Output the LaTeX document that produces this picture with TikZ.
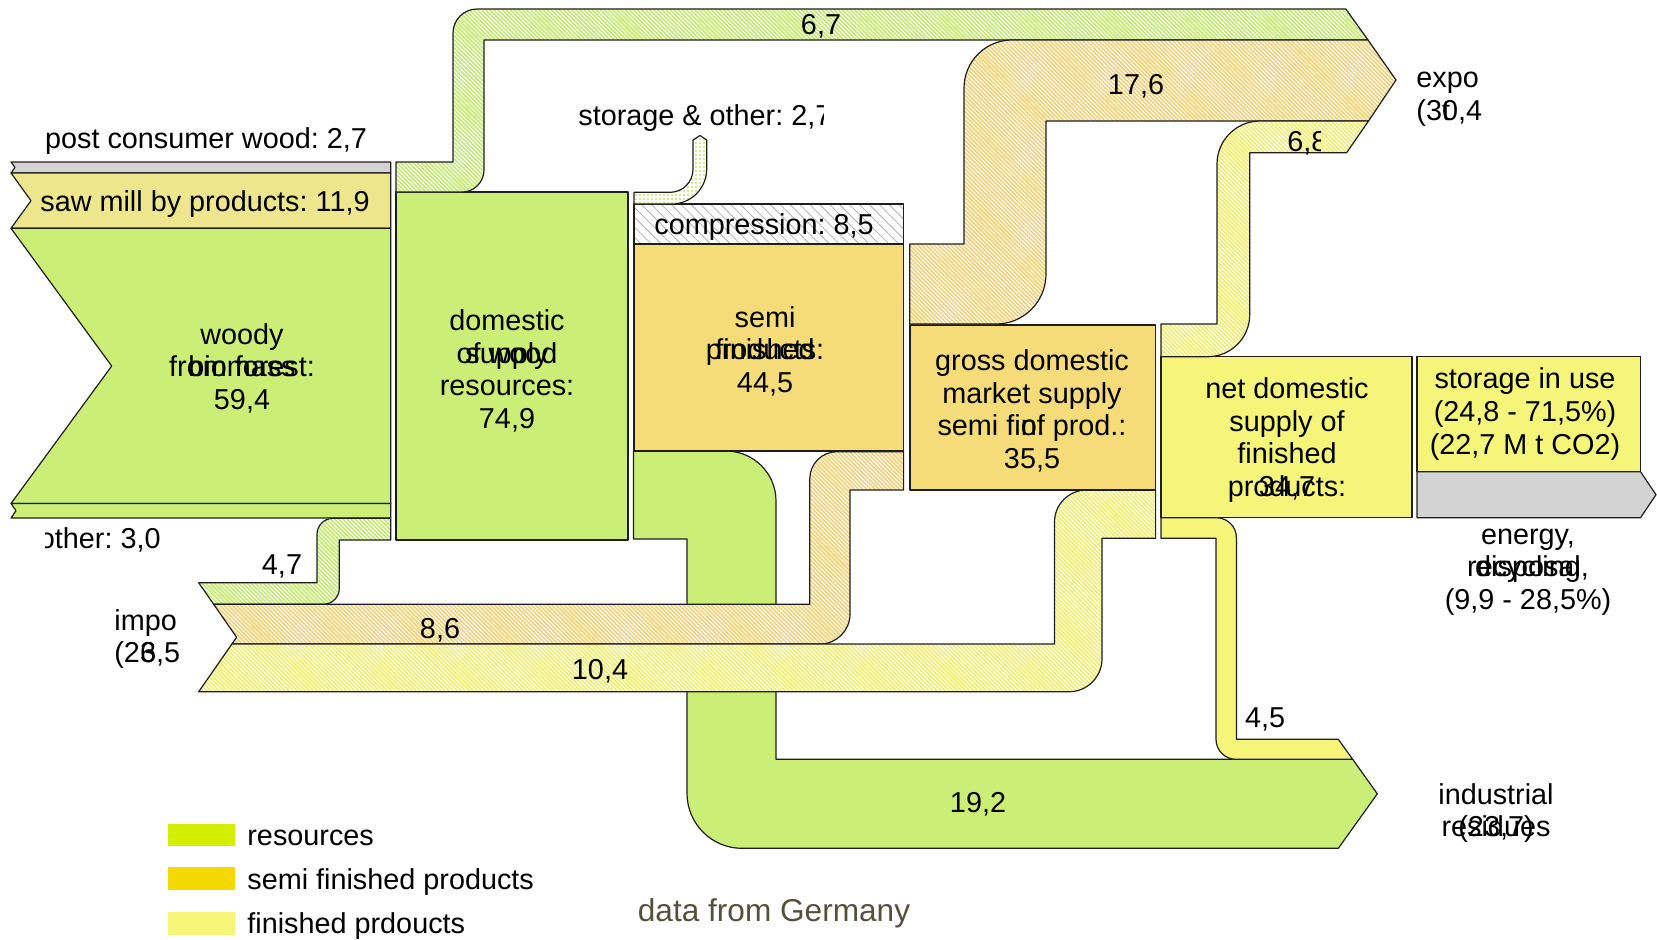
\documentclass[tikz,border=0pt]{standalone}
\usepackage{fontspec}
\setmainfont{Liberation Sans}
\usetikzlibrary{patterns.meta}
\definecolor{cgreen}{RGB}{203,238,118}
\definecolor{csaw}{RGB}{238,230,140}
\definecolor{cgrey}{RGB}{211,211,211}
\definecolor{csemi}{RGB}{245,220,120}
\definecolor{cfin}{RGB}{245,245,122}
\definecolor{hgreen}{RGB}{190,234,100}
\definecolor{horange}{RGB}{245,205,105}
\definecolor{hyellow}{RGB}{240,238,95}
\definecolor{hgrey}{RGB}{175,175,175}
\definecolor{lgres}{RGB}{212,238,0}
\definecolor{lgsemi}{RGB}{245,216,0}
\definecolor{lgfin}{RGB}{245,245,120}
\definecolor{linec}{RGB}{30,30,30}
\definecolor{germ}{RGB}{85,80,60}
\newcommand\fs{\fontsize{14.4}{16.3}\selectfont}
\newcommand\cor[7]{-- ({#1-(#3)*#7},{#2-(#4)*#7}) .. controls ({#1-0.4477*(#3)*#7},{#2-0.4477*(#4)*#7}) and ({#1+0.4477*(#5)*#7},{#2+0.4477*(#6)*#7}) .. ({#1+(#5)*#7},{#2+(#6)*#7})}
\newcommand\ovl[2]{\makebox[0pt]{#1}\makebox[0pt]{#2}}
\frenchspacing
\begin{document}
\begin{tikzpicture}[x=0.5pt,y=-0.5pt,
  edge/.style={draw=linec,line width=0.6pt,line join=round},
  box/.style={edge,inner sep=0pt,outer sep=0pt,anchor=north west},
  hatchband/.style={edge,preaction={fill=white},pattern={Lines[angle=-45,distance=1.45pt,line width=0.75pt]},pattern color=#1},
  lbl/.style={font=\fs\frenchspacing,inner sep=0pt,align=center,text=black,yshift=-1.5pt}]
\useasboundingbox (0,0) rectangle (1657,939);

% left input strips
\path[edge,fill=cgrey] (11,162) -- (390.7,162) -- (390.7,173) -- (11,173) -- (15,167.5) -- cycle;
\path[edge,fill=csaw] (11,173) -- (390.7,173) -- (390.7,228.3) -- (11,228.3) -- (31,200.7) -- cycle;
\path[edge,fill=cgreen] (11,228.3) -- (390.7,228.3) -- (390.7,503.5) -- (11,503.5) -- (111.7,366) -- cycle;
\path[edge,fill=cgreen] (11,503.5) -- (390.7,503.5) -- (390.7,518) -- (11,518) -- (16,510.7) -- cycle;

% industrial residues 19,2
\path[edge,fill=cgreen] (633.5,451) \cor{776}{451}{1}{0}{0}{1}{50} -- (776,759.3) -- (1352.7,759.3) -- (1377.3,793.8) -- (1338.3,848.3) \cor{687}{848.3}{-1}{0}{0}{-1}{55} -- (687,539) -- (633.5,539) -- cycle;
% 4,5
\path[edge,fill=cfin] (1161,517.7) \cor{1236.4}{517.7}{1}{0}{0}{1}{20} -- (1236.4,739.3) -- (1338.3,739.3) -- (1352.7,759.3) \cor{1216}{759.3}{-1}{0}{0}{-1}{20} -- (1216,538.3) -- (1161,538.3) -- cycle;

% imports
\path[hatchband=hgreen] (198.7,582.7) -- (317,582.7) \cor{317}{518.3}{0}{-1}{1}{0}{16} -- (390.7,518.3) -- (390.7,540) -- (339.3,540) \cor{339.3}{604.3}{0}{1}{-1}{0}{16} -- (213.7,604.3) -- cycle;
\path[hatchband=horange] (213.7,604.3) -- (809.8,604.3) \cor{809.8}{451.7}{0}{-1}{1}{0}{27} -- (903.6,451.7) -- (903.6,490) -- (850,490) \cor{850}{644}{0}{1}{-1}{0}{30} -- (231.9,644) -- (236.6,637.2) -- cycle;
\path[hatchband=hyellow] (231.9,644) -- (1054.5,644) \cor{1054.5}{490}{0}{-1}{1}{0}{32} -- (1155.6,490) -- (1155.6,538.3) -- (1102,538.3) \cor{1102}{691.7}{0}{1}{-1}{0}{33} -- (198.7,691.7) -- cycle;

% boxes
\node[box,fill=cgreen,minimum width=116pt,minimum height=174pt] (dom) at (396,192) {};
\node[box,fill=csemi,minimum width=134.8pt,minimum height=103.5pt] (semi) at (634,244) {};
\node[box,preaction={fill=white},pattern={Lines[angle=-45,distance=3.5pt,line width=0.4pt]},pattern color=hgrey,minimum width=134.8pt,minimum height=20pt] (comp) at (634,204) {};
\node[box,fill=csemi,minimum width=122.8pt,minimum height=82.5pt] (gross) at (910,325) {};
\node[box,fill=cfin,minimum width=125.5pt,minimum height=80.5pt] (net) at (1161,356.7) {};
\node[box,fill=cfin,minimum width=111.75pt,minimum height=57.5pt] (stor) at (1417,356.7) {};
\path[edge,fill=cgrey] (1417,471.7) -- (1640.5,471.7) -- (1656,494.7) -- (1640.5,517.7) -- (1417,517.7) -- cycle;

% exports
\path[hatchband=hgreen] (396,162) -- (453,162) \cor{453}{9}{0}{-1}{1}{0}{24} -- (1345.8,9) -- (1368,40) -- (484,40) \cor{484}{192}{0}{1}{-1}{0}{22} -- (396,192) -- cycle;
\path[hatchband=horange] (909.7,244) -- (964,244) \cor{964}{40}{0}{-1}{1}{0}{48} -- (1368,40) -- (1396,80) -- (1368.5,121) -- (1046,121) \cor{1046}{324}{0}{1}{-1}{0}{50} -- (909.7,324) -- cycle;
\path[hatchband=hyellow] (1161,324) -- (1217,324) \cor{1217}{121}{0}{-1}{1}{0}{43} -- (1368.5,121) -- (1346.6,152.7) -- (1249.7,152.7) \cor{1249.7}{356.7}{0}{1}{-1}{0}{42} -- (1161,356.7) -- cycle;
% storage & other
\path[edge,preaction={fill=white},pattern={Dots[distance=2pt,radius=0.55pt]},pattern color=hgreen] (634,192.3) \cor{693}{192.3}{1}{0}{0}{-1}{23} -- (693,140) -- (700,135.5) -- (706.7,140) \cor{706.7}{204}{0}{1}{-1}{0}{35} -- (634,204) -- cycle;

% labels
\node[lbl] (tpost) at (206,138) {post consumer wood: 2,7};
\node[lbl] (tsaw) at (205,201) {saw mill by products: 11,9};
\node[lbl] (twoody) at (242,365) {woody\\\ovl{from forest:}{biomass}\\59,4};
\node[lbl] (tdom) at (507,368) {domestic\\\ovl{supply}{of wood}\\resources:\\74,9};
\node[lbl] (tsemi) at (765,348) {semi\\\ovl{finished}{products:}\\44,5};
\node[lbl] (tcomp) at (764,224) {compression: 8,5};
\node[lbl] (tgross) at (1032,408) {gross domestic\\market supply\\semi fi\rlap{n.}of prod.:\\35,5};
\node[lbl] (tnet) at (1287,437) {net domestic\\supply of\\finished\\\ovl{products:}{34,7}};
\node[lbl] (tstor) at (1525,411) {storage in use\\(24,8 - 71,5\%)\\(22,7 M t CO2)};
\node[lbl] (tener) at (1528,569) {energy,\\\ovl{recycling,}{disposal}\\(9,9 - 28,5\%)};
\node[lbl] (tind) at (1496,810) {industrial\\\ovl{residues}{(23,7)}};
\node[lbl,align=left,anchor=west] (texp) at (1416,96) {expo\\(3\rlap{t}0,4};
\node[lbl,align=left,anchor=west] (timp) at (114,636) {impo\\(2\rlap{3}6,5};
\begin{scope}
\clip (45,515) rectangle (200,565);
\node[lbl,anchor=east] (toth) at (161,537) {other: 3,0};
\end{scope}
\begin{scope}
\clip (560,90) rectangle (823,145);
\node[lbl,anchor=west] (tsto) at (578,115) {storage \& other: 2,7};
\end{scope}
\begin{scope}
\clip (1280,125) rectangle (1320,160);
\node[lbl,anchor=west] (v68) at (1287,140) {6,8};
\end{scope}
\node[lbl] (v67) at (821,23) {6,7};
\node[lbl] (v176) at (1136,83) {17,6};
\node[lbl] (v47) at (282,563) {4,7};
\node[lbl] (v86) at (440,627) {8,6};
\node[lbl] (v104) at (600,668) {10,4};
\node[lbl] (v192) at (978,801) {19,2};
\node[lbl] (v45) at (1265,716) {4,5};

% legend
\node[fill=lgres,inner sep=0pt,minimum width=33.2pt,minimum height=11.3pt,anchor=north west] (lg1) at (168,823.3) {};
\node[fill=lgsemi,inner sep=0pt,minimum width=33.2pt,minimum height=11.3pt,anchor=north west] (lg2) at (168,866.7) {};
\node[fill=lgfin,inner sep=0pt,minimum width=33.2pt,minimum height=11.3pt,anchor=north west] (lg3) at (168,911.7) {};
\node[lbl,anchor=west] (lt1) at (247,835) {resources};
\node[lbl,anchor=west] (lt2) at (247,879) {semi finished products};
\node[lbl,anchor=west] (lt3) at (247,923) {finished prdoucts};
\node[lbl,text=germ,font=\fontsize{15.8}{18}\selectfont] (tgerm) at (774,910) {data from Germany};
\end{tikzpicture}
\end{document}
